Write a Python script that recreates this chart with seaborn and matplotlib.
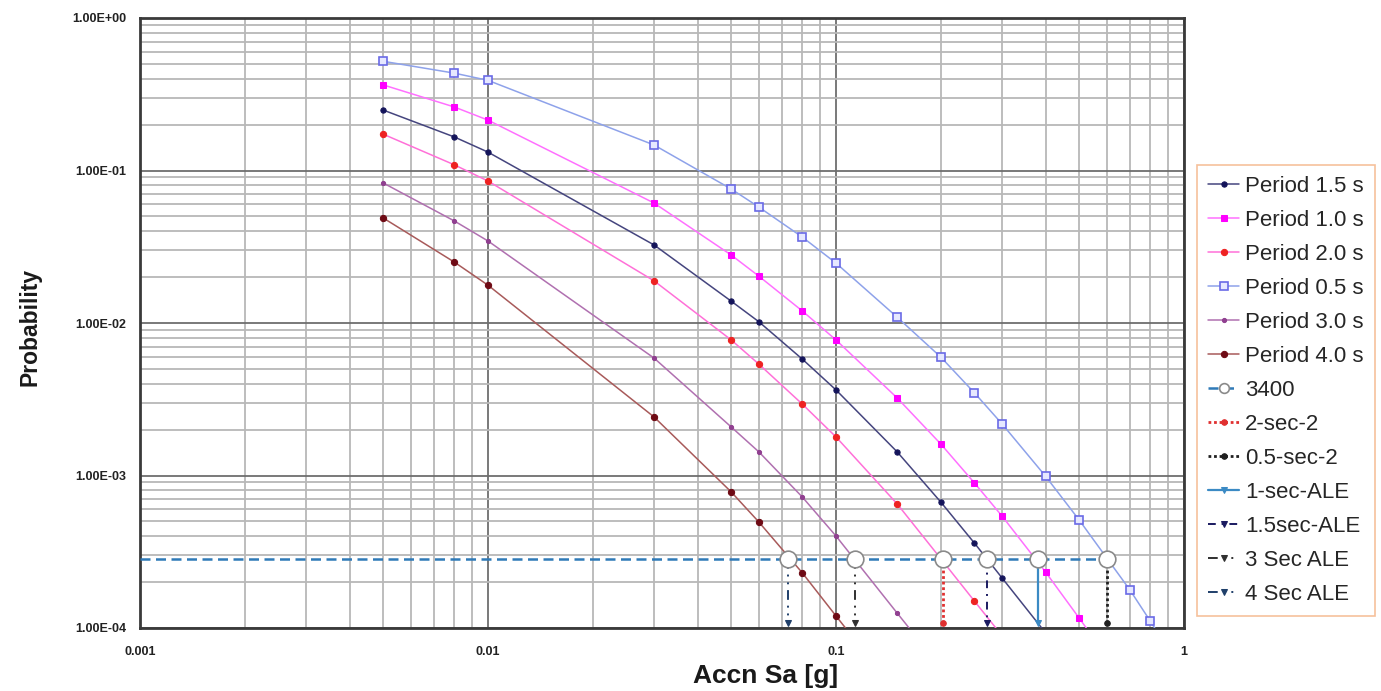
import matplotlib
matplotlib.use("Agg")
import matplotlib.pyplot as plt
import seaborn as sns
import pandas as pd
from matplotlib.ticker import FixedLocator, FixedFormatter, NullFormatter

# ---------------- data ----------------
x_p05 = [0.005, 0.008, 0.01, 0.03, 0.05, 0.06, 0.08, 0.1, 0.15, 0.2, 0.25, 0.3, 0.4, 0.5, 0.7, 0.8, 0.9]
y_p05 = [0.52, 0.435, 0.39, 0.147, 0.0756, 0.0576, 0.0366, 0.0247, 0.0109, 0.00598, 0.00348,
         0.00218, 0.00099, 0.00051, 0.000177, 0.000111, 0.000073]

x_p10 = [0.005, 0.008, 0.01, 0.03, 0.05, 0.06, 0.08, 0.1, 0.15, 0.2, 0.25, 0.3, 0.4, 0.5, 0.6]
y_p10 = [0.364, 0.261, 0.214, 0.0612, 0.0279, 0.0203, 0.012, 0.00774, 0.00322, 0.00161,
         0.000893, 0.000542, 0.000233, 0.000116, 0.000065]

x_p15 = [0.005, 0.008, 0.01, 0.03, 0.05, 0.06, 0.08, 0.1, 0.15, 0.2, 0.25, 0.3, 0.4]
y_p15 = [0.249, 0.166, 0.132, 0.0325, 0.0139, 0.0102, 0.0058, 0.00364, 0.001426, 0.00067,
         0.00036, 0.000213, 0.000093]

x_p20 = [0.005, 0.008, 0.01, 0.03, 0.05, 0.06, 0.08, 0.1, 0.15, 0.2, 0.25, 0.3]
y_p20 = [0.173, 0.109, 0.0853, 0.0189, 0.00774, 0.00538, 0.00294, 0.00179, 0.00065, 0.000285,
         0.00015, 0.000089]

x_p30 = [0.005, 0.008, 0.01, 0.03, 0.05, 0.06, 0.08, 0.1, 0.15, 0.2]
y_p30 = [0.0828, 0.0467, 0.0345, 0.00589, 0.00208, 0.00143, 0.000723, 0.000401, 0.000125, 0.000055]

x_p40 = [0.005, 0.008, 0.01, 0.03, 0.05, 0.06, 0.08, 0.1, 0.15]
y_p40 = [0.0488, 0.0251, 0.0177, 0.00242, 0.00078, 0.000496, 0.00023, 0.00012, 0.000037]

# 3400-year level and its intersections with each curve
level_3400 = 2.85e-4
x_3400 = [0.001, 0.0728, 0.1135, 0.203, 0.2716, 0.38, 0.601]
y_3400 = [level_3400] * len(x_3400)

y_drop = [level_3400, 1.08e-4]
x_2sec2 = [0.203, 0.203]
x_05sec2 = [0.601, 0.601]
x_1ale = [0.38, 0.38]
x_15ale = [0.2716, 0.2716]
x_3ale = [0.1135, 0.1135]
x_4ale = [0.0728, 0.0728]

x_tick_vals = [0.001, 0.01, 0.1, 1]
x_tick_labels = ["0.001", "0.01", "0.1", "1"]
y_tick_vals = [1e-4, 1e-3, 1e-2, 1e-1, 1]
y_tick_labels = ["1.00E-04", "1.00E-03", "1.00E-02", "1.00E-01", "1.00E+00"]

# ---------------- style ----------------
sns.set_style("white")
plt.rcParams['font.family'] = ['Liberation Sans', 'DejaVu Sans']

W, H = 1381, 691
fig = plt.figure(figsize=(W / 100, H / 100), dpi=100)
ax = fig.add_axes([140 / W, 1 - 628 / H, (1184 - 140) / W, (628 - 18) / H])
ax.set_xscale('log')
ax.set_yscale('log')
ax.set_xlim(0.001, 1)
ax.set_ylim(1e-4, 1)

handles = []


def add(x, y, label, **kw):
    sns.lineplot(x=x, y=y, ax=ax, estimator=None, sort=False, label=label, legend=False, **kw)
    handles.append(ax.lines[-1])


add(x_p15, y_p15, "Period 1.5 s", color="#45457e", lw=1.1, marker='o', ms=3.8,
    mfc="#14145a", mec="#14145a", zorder=3)
add(x_p10, y_p10, "Period 1.0 s", color="#ff70ff", lw=1.1, marker='s', ms=4.8,
    mfc="#ff00ff", mec="#ff00ff", zorder=3)
add(x_p20, y_p20, "Period 2.0 s", color="#ff70d8", lw=1.1, marker='o', ms=4.5,
    mfc="#ee2222", mec="#ee2222", zorder=3)
add(x_p05, y_p05, "Period 0.5 s", color="#8ea2ea", lw=1.1, marker='s', ms=6.3,
    mfc="#e6e8ff", mec="#6a6ae6", mew=1.2, zorder=3)
add(x_p30, y_p30, "Period 3.0 s", color="#b070b0", lw=1.1, marker='o', ms=3,
    mfc="#904090", mec="#904090", zorder=3)
add(x_p40, y_p40, "Period 4.0 s", color="#a85a5a", lw=1.1, marker='o', ms=4.5,
    mfc="#6e0a14", mec="#6e0a14", zorder=3)
add(x_3400, y_3400, "3400", color="#2f7ab8", lw=1.8, linestyle=(0, (4, 2.2)), marker='o', ms=12,
    mfc="white", mec="#8a8a8a", mew=1.2, markevery=[1, 2, 3, 4, 5, 6], zorder=6)
add(x_2sec2, y_drop, "2-sec-2", color="#e03030", lw=2, linestyle=(0, (1, 1)), marker='o', ms=4,
    mfc="#e03030", mec="#e03030", zorder=4)
add(x_05sec2, y_drop, "0.5-sec-2", color="#202020", lw=2, linestyle=(0, (1, 1)), marker='o', ms=4,
    mfc="#202020", mec="#202020", zorder=4)
add(x_1ale, y_drop, "1-sec-ALE", color="#3b8ac4", lw=1.6, linestyle='-', marker='v', ms=5,
    mfc="#3b8ac4", mec="#3b8ac4", markevery=[1], zorder=4)
add(x_15ale, y_drop, "1.5sec-ALE", color="#1a1a60", lw=1.4, linestyle=(0, (4, 3, 1, 3)), marker='v', ms=5,
    mfc="#1a1a60", mec="#1a1a60", markevery=[1], zorder=4)
add(x_3ale, y_drop, "3 Sec ALE", color="#303030", lw=1.4, linestyle=(0, (5, 3, 1, 3, 1, 3)), marker='v', ms=5,
    mfc="#303030", mec="#303030", markevery=[1], zorder=4)
add(x_4ale, y_drop, "4 Sec ALE", color="#1f3f6a", lw=1.4, linestyle=(0, (5, 3, 1, 3, 1, 3)), marker='v', ms=5,
    mfc="#1f3f6a", mec="#1f3f6a", markevery=[1], zorder=4)

# ---------------- axes ----------------
ax.xaxis.set_major_locator(FixedLocator(x_tick_vals))
ax.xaxis.set_major_formatter(FixedFormatter(x_tick_labels))
ax.yaxis.set_major_locator(FixedLocator(y_tick_vals))
ax.yaxis.set_major_formatter(FixedFormatter(y_tick_labels))
ax.xaxis.set_minor_formatter(NullFormatter())
ax.yaxis.set_minor_formatter(NullFormatter())
ax.tick_params(which='both', length=0)
ax.tick_params(axis='x', which='major', labelsize=9, pad=13, colors="#222222")
ax.tick_params(axis='y', which='major', labelsize=9, pad=10, colors="#222222")
for lab in ax.get_xticklabels() + ax.get_yticklabels():
    lab.set_fontweight('bold')

ax.grid(True, which='major', color="#6e6e6e", lw=1.3, zorder=0)
ax.grid(True, which='minor', color="#b8b8b8", lw=1.3, zorder=0)
ax.set_axisbelow(True)
for s in ax.spines.values():
    s.set_color("#3a3a3a")
    s.set_linewidth(2)

ax.set_xlabel("Accn Sa [g]", fontsize=19, fontweight='bold', color="#1a1a1a")
ax.set_ylabel("Probability", fontsize=16.5, fontweight='bold', color="#1a1a1a")
ax.xaxis.set_label_coords((766 - 140) / 1044, (628 - 676) / 610)
ax.xaxis.label.set_va('center')
ax.yaxis.set_label_coords((30 - 140) / 1044, (628 - 327) / 610)
ax.yaxis.label.set_va('center')

leg = fig.legend(handles, [h.get_label() for h in handles], loc='upper left',
                 bbox_to_anchor=(1197 / W, 1 - 165 / H), frameon=True, fancybox=False,
                 edgecolor="#f4b183", fontsize=16, handlelength=1.4, handletextpad=0.25,
                 labelspacing=0.585, borderpad=0.5, borderaxespad=0)
leg.get_frame().set_linewidth(1.2)
for h in leg.legend_handles:
    h.set_markersize(min(h.get_markersize(), 7))

fig.savefig("out.png", dpi=100)
